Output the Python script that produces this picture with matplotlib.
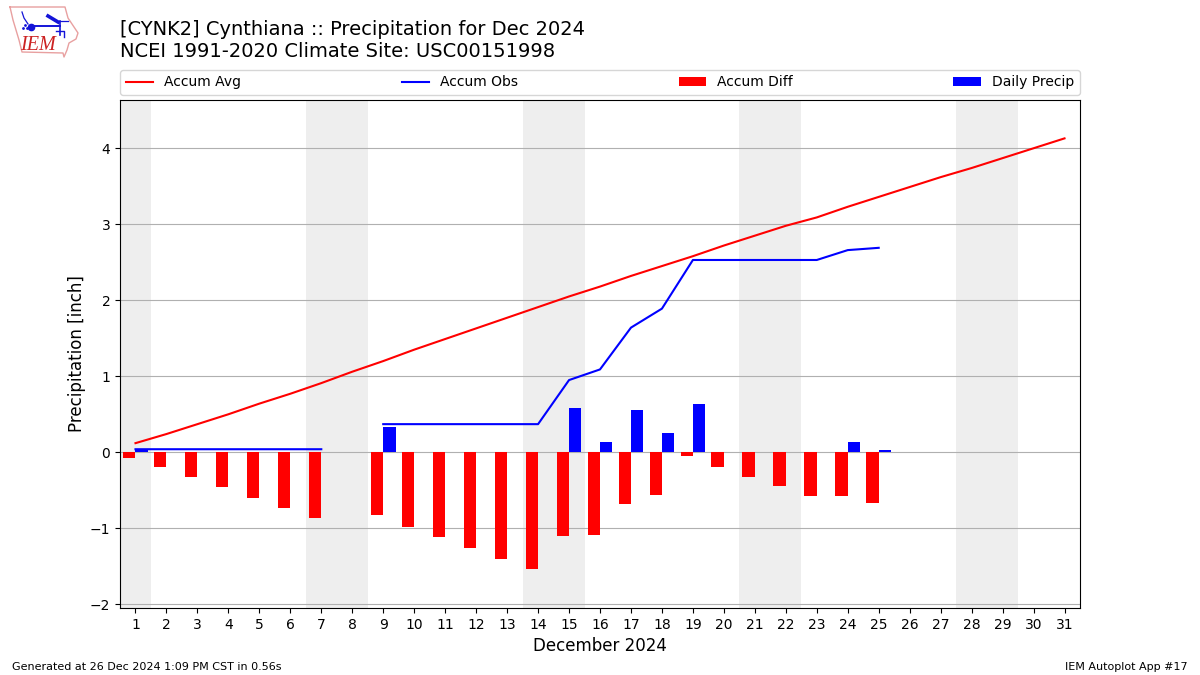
import numpy as np
import matplotlib
matplotlib.use("Agg")
import matplotlib.pyplot as plt

nan = float("nan")
days = list(range(1, 32))
accum_avg = [0.12, 0.24, 0.37, 0.50, 0.64, 0.77, 0.91, 1.06, 1.20, 1.35, 1.49, 1.63, 1.77, 1.91, 2.05, 2.18,
             2.32, 2.45, 2.58, 2.72, 2.85, 2.98, 3.09, 3.23, 3.36, 3.49, 3.62, 3.74, 3.87, 4.00, 4.13]
accum_obs = [0.04, 0.04, 0.04, 0.04, 0.04, 0.04, 0.04, nan, 0.37, 0.37, 0.37, 0.37, 0.37, 0.37, 0.95, 1.09,
             1.64, 1.89, 2.53, 2.53, 2.53, 2.53, 2.53, 2.66, 2.69, nan, nan, nan, nan, nan, nan]
accum_diff = [-0.08, -0.20, -0.33, -0.46, -0.60, -0.73, -0.87, nan, -0.83, -0.98, -1.12, -1.26, -1.40, -1.54,
              -1.10, -1.09, -0.68, -0.56, -0.05, -0.19, -0.32, -0.45, -0.58, -0.58, -0.67, nan, nan, nan, nan, nan, nan]
daily = [0.04, 0, 0, 0, 0, 0, 0, 0, 0.33, 0, 0, 0, 0, 0, 0.58, 0.13,
         0.55, 0.25, 0.64, 0, 0, 0, 0, 0.13, 0.03, nan, nan, nan, nan, nan, nan]
weekends = [(0.5, 1.5), (6.5, 8.5), (13.5, 15.5), (20.5, 22.5), (27.5, 29.5)]
title = "[CYNK2] Cynthiana :: Precipitation for Dec 2024\nNCEI 1991-2020 Climate Site: USC00151998"

W, H = 1200, 675
fig = plt.figure(figsize=(W / 100, H / 100), dpi=100)
ax = fig.add_axes([120 / W, 1 - 608 / H, 960 / W, 508 / H])

for a, b in weekends:
    ax.axvspan(a, b, color="#eeeeee", lw=0, zorder=0)
ax.plot(days, accum_avg, color="r", lw=1.5, label="Accum Avg", zorder=3)
ax.plot(days, accum_obs, color="b", lw=1.5, label="Accum Obs", zorder=3)
# zero-height bars would leave a thin edge sliver, so only real values are passed on
ax.bar(np.array(days) - 0.2, accum_diff, width=0.4, color="r", label="Accum Diff", zorder=2)
ax.bar(np.array(days) + 0.2, daily, width=0.4, color="b", label="Daily Precip", zorder=2)

ax.set_xlim(0.5, 31.5)
ax.set_ylim(-2.049, 4.635)
ax.set_xticks(days)
ax.set_yticks([-2, -1, 0, 1, 2, 3, 4])
ax.yaxis.grid(True, color="#b0b0b0", lw=0.8)
ax.set_axisbelow(True)
ax.tick_params(labelsize=10)
ax.set_xlabel("December 2024", fontsize=12)
ax.set_ylabel("Precipitation [inch]", fontsize=12, labelpad=2.5)

ax.legend(loc="lower left", bbox_to_anchor=(0, 1 + 5 / 508, 1, 25 / 508), ncol=4, mode="expand",
          borderaxespad=0, fontsize=10)

fig.text(120 / W, 1 - 61 / H, title, fontsize=14, ha="left", va="bottom", linespacing=1.2)
fig.text(12 / W, 1 - 667 / H, "Generated at 26 Dec 2024 1:09 PM CST in 0.56s", fontsize=8, ha="left", va="center")
fig.text(1188 / W, 1 - 667 / H, "IEM Autoplot App #17", fontsize=8, ha="right", va="center")

# logo, drawn in pixel space
lg = fig.add_axes([0, 1 - 62 / H, 90 / W, 62 / H])
lg.set_xlim(0, 90)
lg.set_ylim(62, 0)
lg.axis("off")
ox = [10, 65, 68, 72, 78, 76, 69, 67, 64, 63, 22, 19, 13, 10]
oy = [7, 7, 18, 24, 33, 39, 43, 50, 57, 53, 52, 40, 20, 7]
lg.plot(ox, oy, color="#e8a0a0", lw=1.0)
lg.plot([31, 60], [26, 26], color="#1414d8", lw=1.4)
lg.plot([60, 68], [21, 21], color="#1414d8", lw=0.9)
lg.plot([22, 24, 28], [12, 18, 24], color="#1414d8", lw=0.9)
lg.plot([48, 58], [16, 22], color="#1414d8", lw=2.6)
lg.plot([60, 60], [21, 35], color="#1414d8", lw=1.2)
lg.plot([56, 64, 64], [31, 31, 37], color="#1414d8", lw=1.0)
lg.plot([31], [27], "o", color="#1414d8", ms=4.5)
lg.plot([23, 25, 27], [28, 25, 28], ".", color="#1414d8", ms=2)
lg.text(37.5, 45.5, "IEM", color="#cc2222", fontsize=14.5, style="italic", family="Liberation Serif",
        ha="center", va="center")

fig.savefig("out.png", dpi=100)
